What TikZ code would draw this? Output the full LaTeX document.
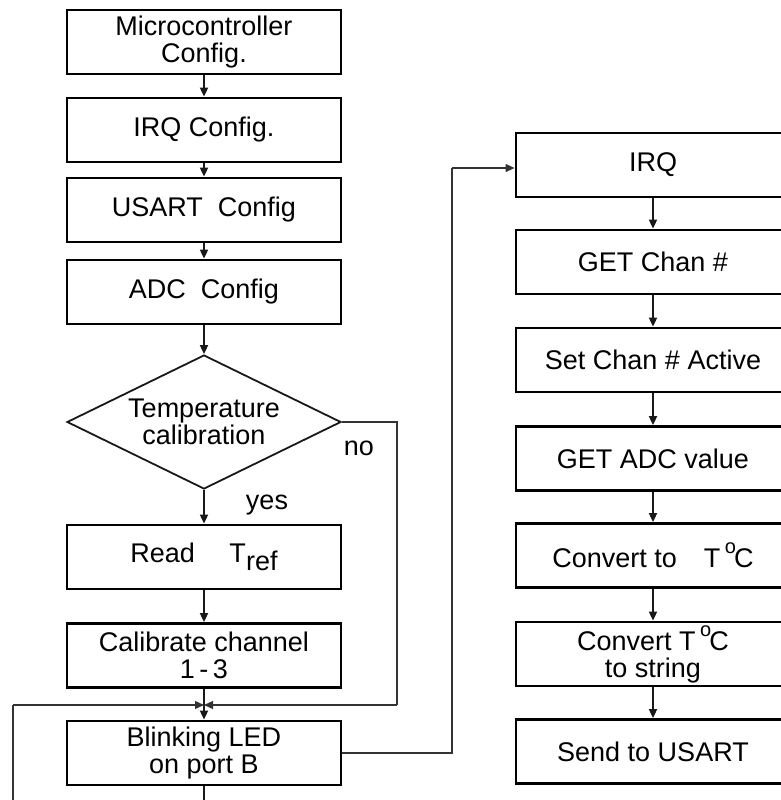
\documentclass[tikz,border=0pt]{standalone}
\usepackage{fontspec}
\setmainfont{Liberation Sans}
\usetikzlibrary{arrows.meta,shapes.geometric}
\newcommand{\tdeg}{T\,\raisebox{7pt}{\fontsize{10}{10}\selectfont o}\kern-1pt C}

\begin{document}
\begin{tikzpicture}[
        x=0.5pt, y=-0.5pt,
        font=\fontsize{13.5}{13.5}\selectfont,
        proc_box/.style={draw=black,line width=1.4pt,minimum width=137pt,minimum height=32pt,inner sep=1pt,align=center},
        test_diamond/.style={diamond,draw=black!90,line width=0.9pt,aspect=2.05,inner sep=0pt,minimum width=137pt,minimum height=67pt,align=center},
        flow_arrow/.style={draw=black!90,line width=0.9pt,-{Triangle[length=4.5pt,width=4pt]}},
        loop_line/.style={draw=black!80,line width=0.6pt},
        loop_arrow/.style={loop_line,-{Triangle[length=4.5pt,width=4pt]}}
    ]
    \useasboundingbox (0,0) rectangle (781,800);

    % Main program (left column)
    \node[proc_box] (mcu)   at (204,42)    {Microcontroller\\Config.};
    \node[proc_box] (irqc)  at (204,130)   {IRQ Config.};
    \node[proc_box] (usart) at (204,210)   {USART\ \ Config};
    \node[proc_box] (adc)   at (204,292)   {ADC\ \ Config};
    \node[test_diamond] (temp) at (204,422) {Temperature\\calibration};
    \node[proc_box] (read)  at (204,557)   {Read\quad\ T\raisebox{-4pt}{ref}};
    \node[proc_box] (calib) at (204,655.5) {Calibrate channel\\1\,-\,3};
    \node[proc_box] (blink) at (204,753)   {Blinking LED\\on port B};

    \node (no)  at (359,448) {no};
    \node (yes) at (267,505) {yes};

    % Interrupt routine (right column)
    \node[proc_box] (irq)    at (653,165)   {IRQ};
    \node[proc_box] (chan)   at (653,262)   {GET Chan \#};
    \node[proc_box] (active) at (653,360)   {Set Chan \# Active};
    \node[proc_box] (adcval) at (653,458.5) {GET ADC value};
    \node[proc_box] (conv)   at (653,555.5) {Convert to\quad\tdeg};
    \node[proc_box] (str)    at (653,654)   {Convert \tdeg\\to string};
    \node[proc_box] (send)   at (653,751.5) {Send to USART};

    % Turning points
    \coordinate (merge)    at (204,705);
    \coordinate (noright)  at (397,705);
    \coordinate (loopleft) at (13,705);
    \coordinate (loopbot)  at (13,805);
    \coordinate (blinkbot) at (204,805);
    \coordinate (jump)     at (452,168);

    % Straight flow
    \foreach \a/\b in {mcu/irqc, irqc/usart, usart/adc, adc/temp, temp/read, read/calib, calib/blink,
                       irq/chan, chan/active, active/adcval, adcval/conv, conv/str, str/send}
        \draw[flow_arrow] (\a) -- (\b);
    \draw[flow_arrow,-] (blink) -- (blinkbot);

    % Branch "no" and main loop
    \draw[loop_line] (temp.east) -| (noright);
    \draw[loop_arrow] (noright) -- (merge);
    \draw[loop_line] (loopbot) -- (loopleft);
    \draw[loop_arrow] (loopleft) -- (merge);

    % Jump to interrupt routine
    \draw[loop_line] (blink.east) -| (jump);
    \draw[loop_arrow] (jump) -- (jump -| irq.west);

\end{tikzpicture}
\end{document}
